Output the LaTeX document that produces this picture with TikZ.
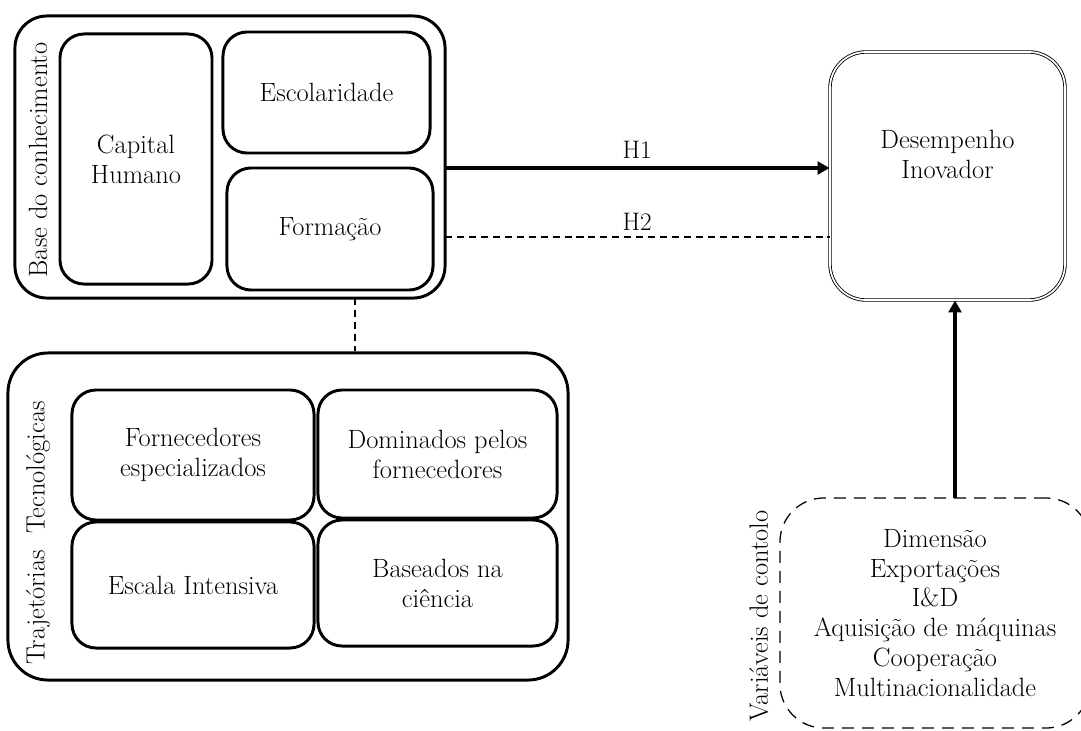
\documentclass[tikz,border=0pt]{standalone}
\usepackage{tikz}
\usetikzlibrary{arrows.meta,positioning}
\tikzset{
  >={Triangle[length=3mm,width=3.2mm]},
  every node/.style={font=\fontsize{18.8}{21.3}\selectfont},
  grp/.style ={draw, line width=2.1pt, rounded corners=8mm, inner sep=0pt},
  cell/.style={draw, line width=2.1pt, rounded corners=6mm, align=center, inner sep=0pt},
  res/.style ={draw, double, double distance=1.2pt, line width=0.6pt, rounded corners=9mm, align=center, inner sep=0pt},
  ctl/.style ={draw, dashed, dash pattern=on 3mm off 2mm, line width=0.9pt, rounded corners=11mm, align=center, inner sep=0pt},
  side/.style={rotate=90, anchor=center},
  hyp/.style ={font=\fontsize{18}{21}\selectfont},
  dsh/.style ={dash pattern=on 5pt off 3.5pt, line width=0.8pt}
}
\begin{document}
\begin{tikzpicture}[x=0.025cm,y=-0.025cm]
\useasboundingbox (0,0) rectangle (1081,731);
% base do conhecimento
\node[grp, minimum width=10.75cm, minimum height=7.05cm] (base) at (230,157) {};
\node[side] (baselbl) at (38,160) {Base do conhecimento};
\node[cell, minimum width=3.8cm, minimum height=6.25cm] (capital) at (136,159) {Capital\\Humano};
\node[cell, minimum width=5.175cm, minimum height=3.025cm] (escol) at (326.5,92.5) {Escolaridade};
\node[cell, minimum width=5.15cm, minimum height=3.05cm] (formacao) at (330,229) {Forma\c{c}\~ao};
% desempenho
\node[res, minimum width=5.875cm, minimum height=6.2cm] (desemp) at (947.5,176) {Desempenho\\Inovador\\[0.35cm]};
% trajetorias
\node[grp, rounded corners=10mm, minimum width=14cm, minimum height=8.175cm] (traj) at (288,516.5) {};
\node[side] (trajlbl) at (38,533) {Trajet\'orias~~Tecnol\'ogicas};
\node[cell, minimum width=6.05cm, minimum height=3.25cm] (forn) at (193,455) {Fornecedores\\especializados};
\node[cell, minimum width=5.975cm, minimum height=3.2cm] (domin) at (437.5,454) {Dominados pelos\\fornecedores};
\node[cell, minimum width=6.05cm, minimum height=3.15cm] (escala) at (193,585) {Escala Intensiva};
\node[cell, minimum width=5.975cm, minimum height=3.15cm] (based) at (437.5,583) {Baseados na\\ci\^encia};
% controlo
\node[ctl, minimum width=7.75cm, minimum height=5.75cm] (ctrl) at (935,613) {Dimens\~ao\\Exporta\c{c}\~oes\\I\&D\\Aquisi\c{c}\~ao de m\'aquinas\\Coopera\c{c}\~ao\\Multinacionalidade};
\node[side] (ctrllbl) at (759,616) {Vari\'aveis de contolo};
% hipoteses
\coordinate (h1s) at (445,168);
\coordinate (h2s) at (445,237);
\coordinate (cv) at (955,498);
\coordinate (dv) at (355,298);
\draw[->, line width=2.6pt] (h1s) -- (h1s -| desemp.west) node[hyp, midway, above=2pt] (h1) {H1};
\draw[dsh] (h2s) -- (h2s -| desemp.west) node[hyp, midway, above=1pt] (h2) {H2};
\draw[->, line width=2.6pt] (cv) -- (cv |- desemp.south);
\draw[dsh] (dv) -- (dv |- traj.north);
\end{tikzpicture}
\end{document}
